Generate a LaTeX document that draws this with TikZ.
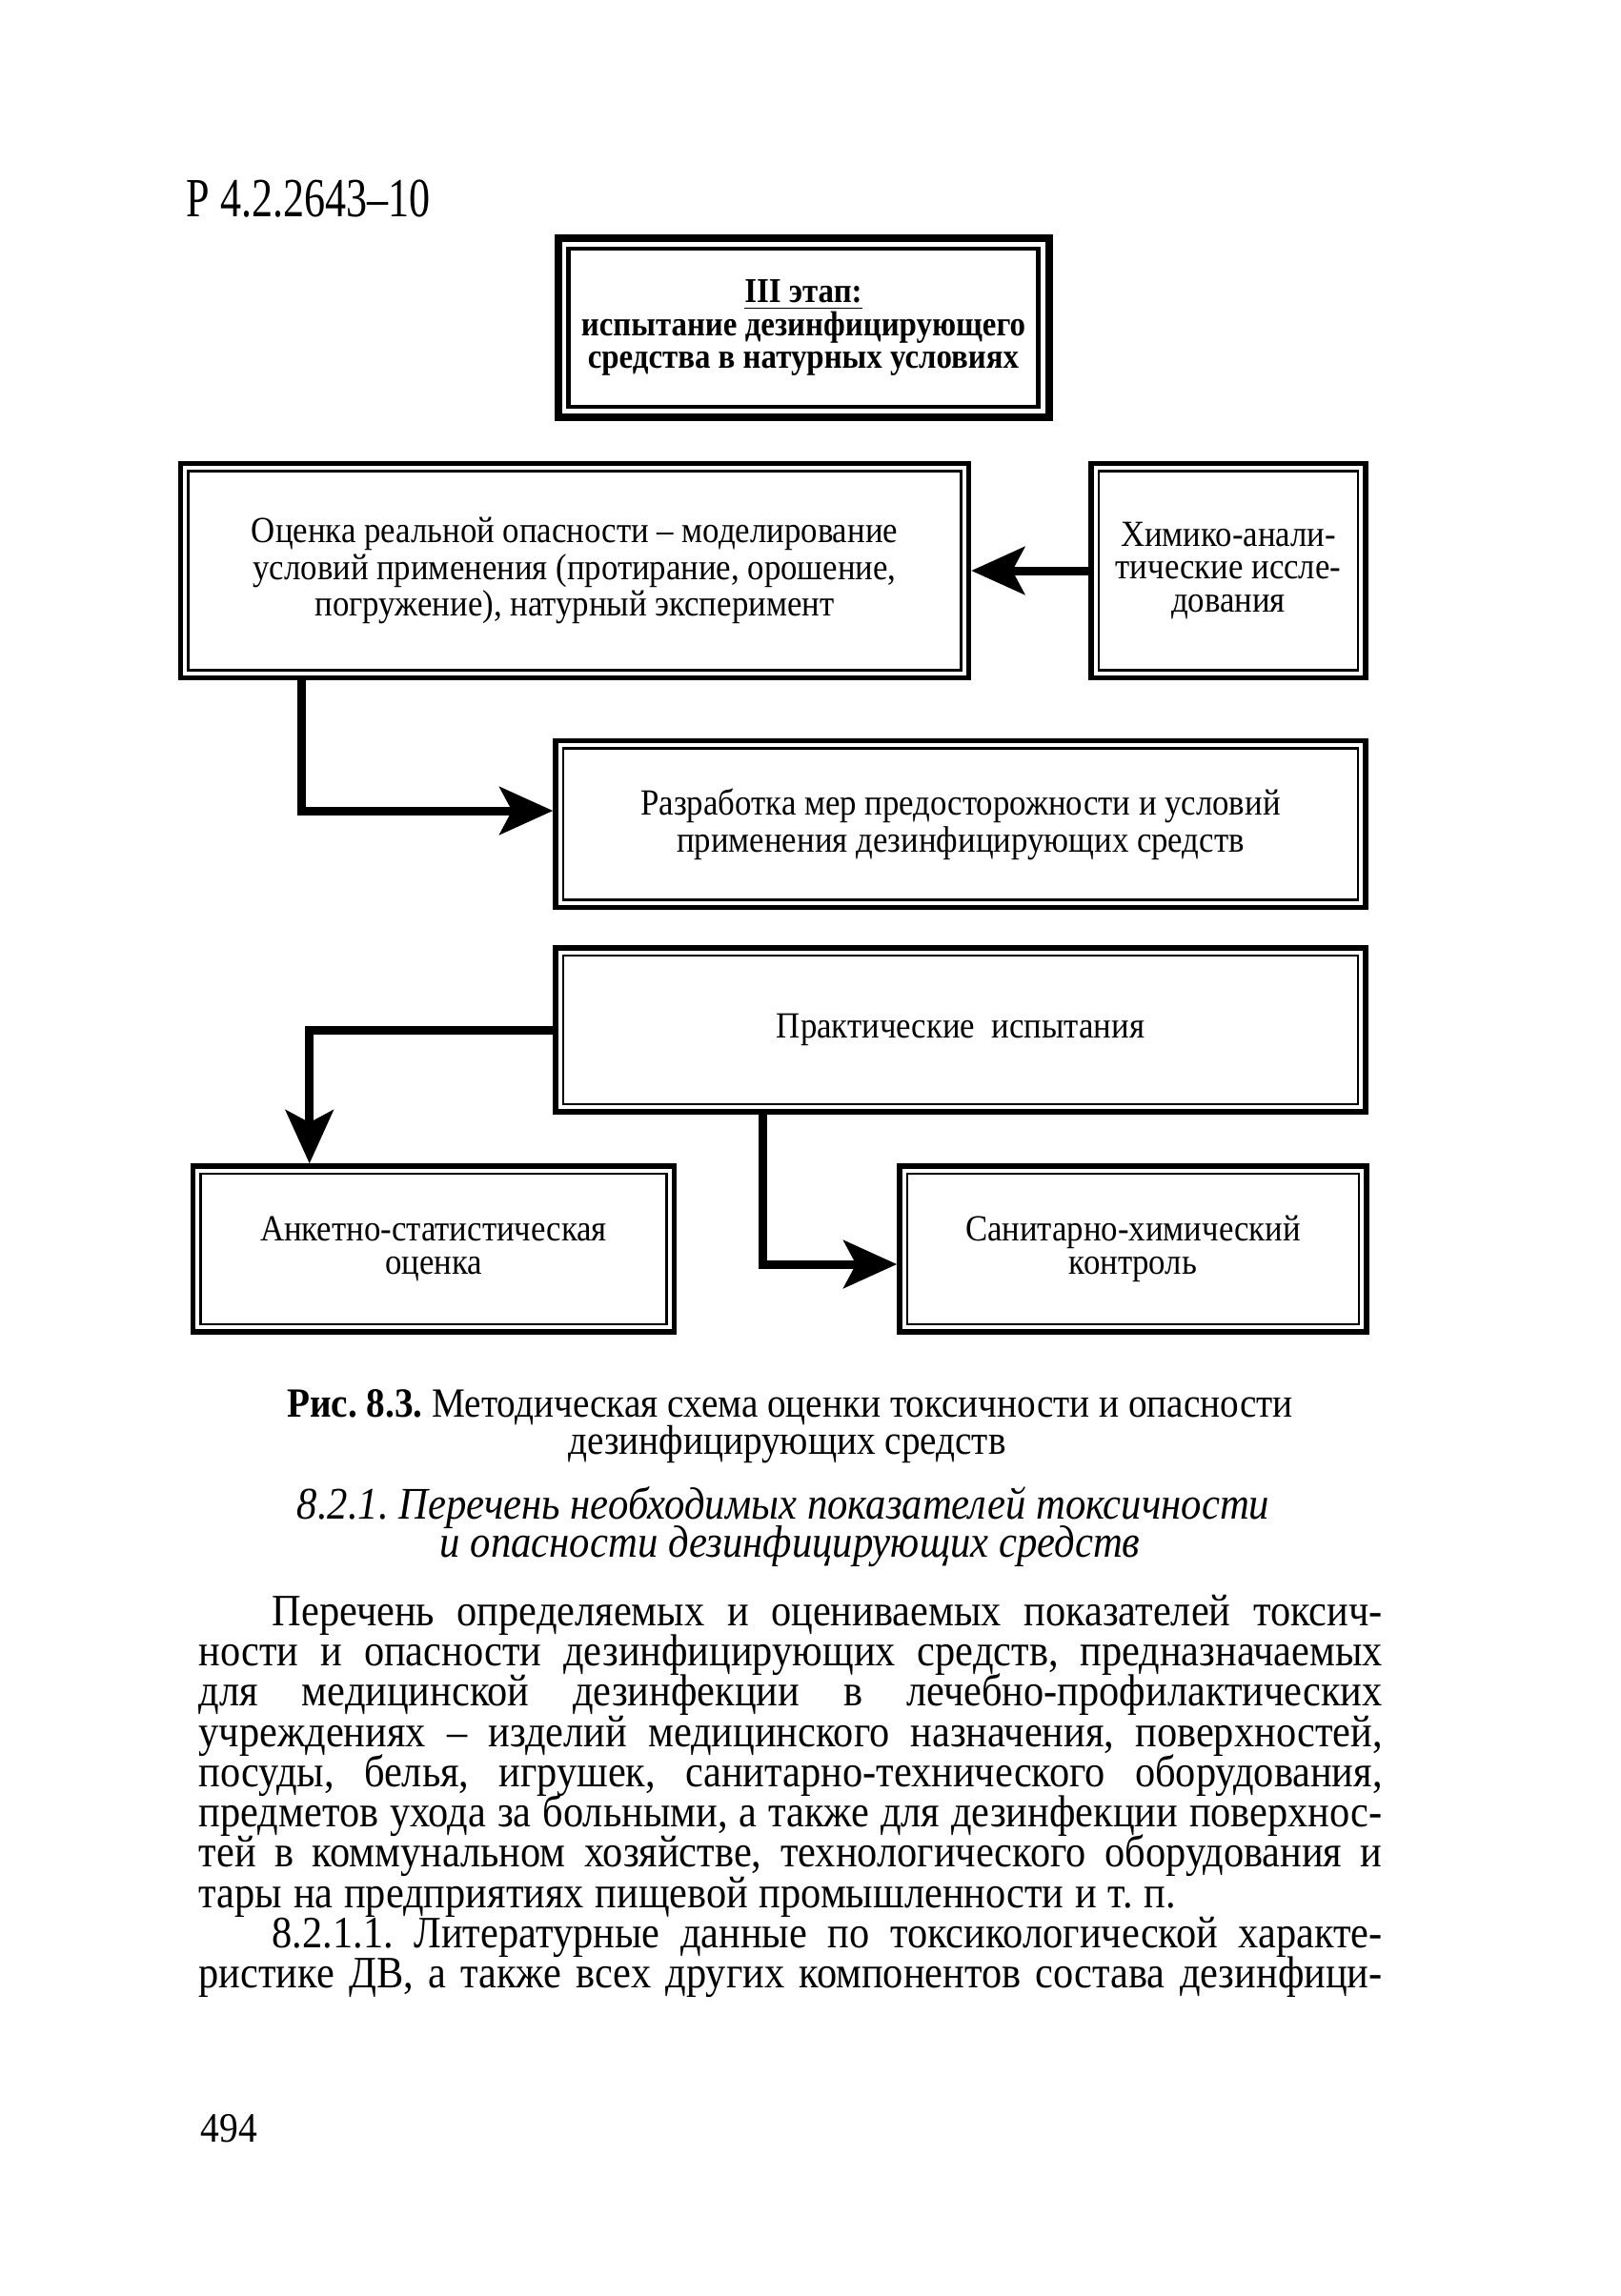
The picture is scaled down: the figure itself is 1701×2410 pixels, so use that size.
\documentclass[tikz,border=0pt]{standalone}
\usepackage{fontspec}
\setmainfont[FakeStretch=0.9]{Liberation Serif}
\newfontfamily\headfont[FakeStretch=0.76]{Liberation Serif}
\usepackage{tikz}
\usetikzlibrary{arrows.meta,positioning}
\frenchspacing

\begin{document}
\begin{tikzpicture}[
        x=0.1mm, y=-0.1mm,
    % double frame: thick outer line from the node, thin inner line drawn inside it
        inframe/.style 2 args={path picture={
            \draw[line width=#2]
            ([shift={(#1,#1)}]path picture bounding box.south west) rectangle
            ([shift={(-#1,-#1)}]path picture bounding box.north east);}},
        box/.style={draw, line width=0.55mm, inner sep=0pt, align=center,
            font=\fontsize{11}{9.85}\selectfont, inframe={0.8mm}{0.28mm}},
        stagebox/.style={draw, line width=0.8mm, inner sep=0pt, align=center,
            font=\fontsize{10.4}{9.7}\selectfont\bfseries, inframe={1.1mm}{0.45mm}},
        flow/.style={-{Stealth[length=5.6mm, width=5mm, inset=1.3mm]}, line width=0.9mm},
        bodyln/.style={anchor=base west, inner sep=0pt,
            font={\fontsize{13.4}{12}\selectfont\spaceskip=0.25em plus 0.6em minus 0.15em\relax}},
        capln/.style={anchor=base, inner sep=0pt, font=\fontsize{12.4}{11}\selectfont},
        headln/.style={anchor=base, inner sep=0pt, font=\fontsize{13.5}{11.4}\selectfont\itshape}
    ]
    \fill[white] (0,0) rectangle (1701,2410);
    \useasboundingbox (0,0) rectangle (1701,2410);

% --- running head ---
    \node[anchor=base west, inner sep=0pt, font=\fontsize{16.5}{16.5}\selectfont\headfont] (code) at (195,227) {Р 4.2.2643–10};

% --- scheme ---
    \node[stagebox, minimum width=51.5mm, minimum height=18.8mm] (stage) at (843,344)
        {\underline{III этап:}\\испытание дезинфицирующего\\средства в натурных условиях};
    \node[box, minimum width=82.7mm, minimum height=22.5mm] (risk) at (603,599)
        {Оценка реальной опасности – моделирование\\условий применения (протирание, орошение,\\погружение), натурный эксперимент};
    \node[box, minimum width=28.8mm, minimum height=22.5mm] (chem) at (1289,599)
        {Химико-анали-\\тические иссле-\\дования};
    \node[box, minimum width=85mm, minimum height=17.5mm] (measures) at (1008,865)
        {Разработка мер предосторожности и условий\\применения дезинфицирующих средств};
    \node[box, minimum width=85mm, minimum height=17.2mm] (trials) at (1008,1081)
        {Практические\ \ испытания};
    \node[box, minimum width=50.5mm, minimum height=17.4mm] (survey) at (455,1311)
        {Анкетно-статистическая\\оценка};
    \node[box, minimum width=49mm, minimum height=17.4mm] (sanit) at (1189,1311)
        {Санитарно-химический\\контроль};

% --- arrows ---
    \draw[flow] (chem) -- (risk);
    \draw[flow] ([xshift=13mm]risk.south west) |- ([yshift=1.4mm]measures.west);
    \draw[flow] (trials.west) -| ([xshift=12.5mm]survey.north west);
    \draw[flow] ([xshift=22mm]trials.south west) |- ([yshift=-1.6mm]sanit.west);

% --- caption and section title ---
    \node[capln] (cap1) at (829,1487) {\textbf{Рис. 8.3.} Методическая схема оценки токсичности и опасности};
    \node[capln] (cap2) at (826,1526) {дезинфицирующих средств};
    \node[headln] (sec1) at (822,1594) {8.2.1. Перечень необходимых показателей токсичности};
    \node[headln] (sec2) at (829,1634) {и опасности дезинфицирующих средств};

% --- body text, line by line ---
    \node[bodyln] (p1) at (285,1706) {\makebox[116.5mm][s]{Перечень определяемых и оцениваемых показателей токсич-}};
    \node[bodyln] (p2) at (208,1748) {\makebox[124.2mm][s]{ности и опасности дезинфицирующих средств, предназначаемых}};
    \node[bodyln] (p3) at (208,1790) {\makebox[124.2mm][s]{для медицинской дезинфекции в лечебно-профилактических}};
    \node[bodyln] (p4) at (208,1833) {\makebox[124.2mm][s]{учреждениях – изделий медицинского назначения, поверхностей,}};
    \node[bodyln] (p5) at (208,1875) {\makebox[124.2mm][s]{посуды, белья, игрушек, санитарно-технического оборудования,}};
    \node[bodyln] (p6) at (208,1917) {\makebox[124.2mm][s]{предметов ухода за больными, а также для дезинфекции поверхнос-}};
    \node[bodyln] (p7) at (208,1959) {\makebox[124.2mm][s]{тей в коммунальном хозяйстве, технологического оборудования и}};
    \node[bodyln] (p8) at (208,2002) {тары на предприятиях пищевой промышленности и т. п.};
    \node[bodyln] (p9) at (285,2044) {\makebox[116.5mm][s]{8.2.1.1. Литературные данные по токсикологической характе-}};
    \node[bodyln] (p10) at (208,2086) {\makebox[124.2mm][s]{ристике ДВ, а также всех других компонентов состава дезинфици-}};

% --- folio ---
    \node[anchor=base west, inner sep=0pt, font=\fontsize{12.5}{12.5}\selectfont] (folio) at (210,2248) {494};
\end{tikzpicture}
\end{document}
